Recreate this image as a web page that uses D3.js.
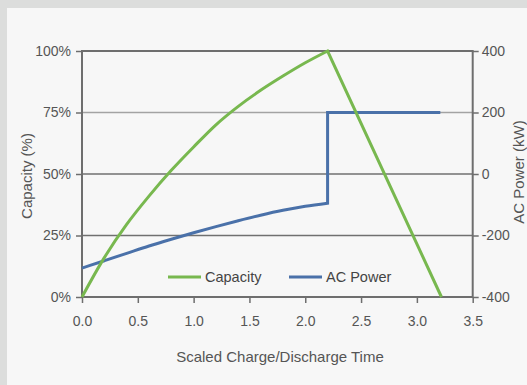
<!DOCTYPE html>
<meta charset="utf-8">
<head>
    <title>Capacity and AC Power</title>
</head>
<style>
    body { margin: 0; background: #dcdddc; }
    svg { display: block; }
    text { font-family: "Liberation Sans", Arial, sans-serif; fill: #555; }
    .tick text { font-size: 14px; }
    .domain { display: none; }
    .tick line { stroke: #6e6e6e; stroke-width: 1.5px; }
</style>
<svg width="527" height="385"></svg>
<script src="https://d3js.org/d3.v7.min.js"></script>
<script>

    // capacity (%) vs scaled time
    var capTime = [0, 0.2, 0.4, 0.6, 0.8, 1.0, 1.2, 1.4, 1.6, 1.8, 2.0, 2.2, 3.22];
    var capValues = [0, 16, 29.5, 41, 51.5, 61, 70, 77.5, 84, 89.8, 95.2, 100, 0];

    // AC power (kW) vs scaled time
    var powerTime = [0, 0.2, 0.4, 0.6, 0.8, 1.0, 1.2, 1.4, 1.6, 1.8, 2.0, 2.2, 2.2, 3.21];
    var powerValues = [-306, -282, -258, -234, -212, -191, -171, -152, -134, -118, -105, -95, 200, 200];

    var xTicks = [0, 0.5, 1, 1.5, 2, 2.5, 3, 3.5];
    var capTicks = [0, 25, 50, 75, 100];
    var powerTicks = [-400, -200, 0, 200, 400];

    var seriesNames = ["Capacity", "AC Power"],
        seriesColors = ["#78b84f", "#4a71a9"];

    var svg = d3.select("svg");

    svg.append("rect")
        .attr("x", 7).attr("y", 8)
        .attr("width", 520).attr("height", 377)
        .attr("fill", "#f7f7f7");

    var plotLeft = 82, plotRight = 472.7, plotTop = 51, plotBottom = 297;

    var x = d3.scaleLinear().domain([0, 3.5]).range([plotLeft, plotRight]);
    var yCap = d3.scaleLinear().domain([0, 100]).range([plotBottom, plotTop]);
    var yPow = d3.scaleLinear().domain([-400, 400]).range([plotBottom, plotTop]);

    // grid lines
    svg.append("g").selectAll("line")
        .data(capTicks.slice(1, 4))
        .enter().append("line")
        .attr("x1", plotLeft).attr("x2", plotRight)
        .attr("y1", function(d) { return yCap(d); })
        .attr("y2", function(d) { return yCap(d); })
        .attr("stroke", function(d) { return d == 75 ? "#a3a3a3" : "#707070"; })
        .attr("stroke-width", 1.5);

    // axes
    svg.append("g")
        .attr("transform", "translate(" + plotLeft + ",0)")
        .call(d3.axisLeft(yCap).tickValues(capTicks).tickSize(6).tickPadding(5)
            .tickFormat(function(d) { return d + "%"; }));

    svg.append("g")
        .attr("transform", "translate(" + plotRight + ",0)")
        .call(d3.axisRight(yPow).tickValues(powerTicks).tickSize(6).tickPadding(3)
            .tickFormat(function(d) { return String(d); }));

    svg.append("g")
        .attr("transform", "translate(0," + plotBottom + ")")
        .call(d3.axisBottom(x).tickValues(xTicks).tickSize(6).tickPadding(13)
            .tickFormat(d3.format(".1f")));

    // frame
    svg.append("rect")
        .attr("x", plotLeft).attr("y", plotTop)
        .attr("width", plotRight - plotLeft).attr("height", plotBottom - plotTop)
        .attr("fill", "none")
        .attr("stroke", "#6e6e6e")
        .attr("stroke-width", 2);

    // charge part is smooth, discharge / step parts are straight
    function pts(times, vals, from, to) {
        var out = [];
        for (var i = from; i < to; i++) out.push([times[i], vals[i]]);
        return out;
    }

    var capSmooth = d3.line().curve(d3.curveMonotoneX)
        .x(function(d) { return x(d[0]); })
        .y(function(d) { return yCap(d[1]); });
    var capStraight = d3.line()
        .x(function(d) { return x(d[0]); })
        .y(function(d) { return yCap(d[1]); });
    var powSmooth = d3.line().curve(d3.curveMonotoneX)
        .x(function(d) { return x(d[0]); })
        .y(function(d) { return yPow(d[1]); });
    var powStraight = d3.line()
        .x(function(d) { return x(d[0]); })
        .y(function(d) { return yPow(d[1]); });

    var nCap = capTime.length, nPow = powerTime.length;

    svg.append("path")
        .attr("d", powSmooth(pts(powerTime, powerValues, 0, nPow - 2)) +
                   powStraight(pts(powerTime, powerValues, nPow - 3, nPow)).replace("M", "L"))
        .attr("fill", "none")
        .attr("stroke", seriesColors[1])
        .attr("stroke-width", 3);

    svg.append("path")
        .attr("d", capSmooth(pts(capTime, capValues, 0, nCap - 1)) +
                   capStraight(pts(capTime, capValues, nCap - 2, nCap)).replace("M", "L"))
        .attr("fill", "none")
        .attr("stroke", seriesColors[0])
        .attr("stroke-width", 3);

    // legend
    var legend = svg.append("g").attr("transform", "translate(168,277)");
    var item = legend.selectAll("g")
        .data(seriesNames)
        .enter().append("g")
        .attr("transform", function(d, i) { return "translate(" + (i * 121) + ",0)"; });
    item.append("line")
        .attr("x1", 0).attr("x2", 33)
        .attr("stroke", function(d, i) { return seriesColors[i]; })
        .attr("stroke-width", 3);
    item.append("text")
        .attr("x", 37).attr("dy", "0.35em")
        .style("font-size", "14.5px")
        .style("fill", "#444")
        .text(function(d) { return d; });

    // titles
    svg.append("text")
        .attr("transform", "translate(27,176) rotate(-90)")
        .attr("text-anchor", "middle").attr("dy", "0.35em")
        .style("font-size", "15px")
        .text("Capacity (%)");

    svg.append("text")
        .attr("transform", "translate(519,172) rotate(-90)")
        .attr("text-anchor", "middle").attr("dy", "0.35em")
        .style("font-size", "15px")
        .text("AC Power (kW)");

    svg.append("text")
        .attr("x", 280).attr("y", 357)
        .attr("text-anchor", "middle").attr("dy", "0.35em")
        .style("font-size", "15px")
        .text("Scaled Charge/Discharge Time");

</script>
